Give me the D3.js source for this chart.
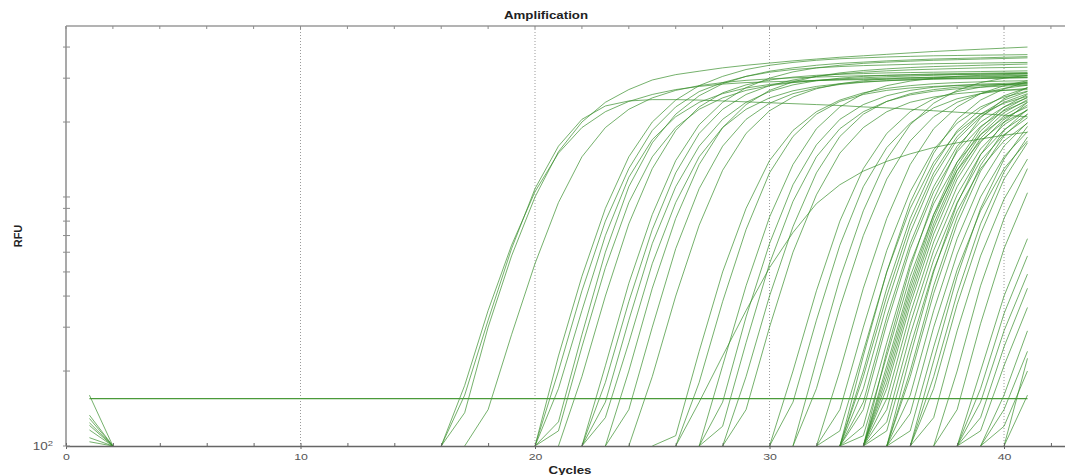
<!DOCTYPE html>
<html>
<head>
<meta charset="utf-8">
<script src="https://cdn.jsdelivr.net/npm/d3@7"></script>
<style>
body { margin: 0; background: #fff; }
text { font-family: Arial, "Liberation Sans", sans-serif; }
</style>
</head>
<body>
<div id="chart"></div>
<script>
// tick values and labels
var xTicks = [0, 2, 4, 6, 8, 10, 12, 14, 16, 18, 20, 22, 24, 26, 28, 30, 32, 34, 36, 38, 40, 42];
var xLabels = [0, 10, 20, 30, 40];
var yTicks = [100, 200, 300, 400, 500, 600, 700, 800, 900, 1000, 2000, 3000, 4000];

// threshold line
var thresholdRfu = 155;
var thresholdCycles = [1, 41];

// wells that start above baseline at cycle 1 and drop to it at cycle 2
var cycleOneRfu = [160, 133, 129, 124, 121, 116, 108, 104];

// early wells: first cycle off the baseline, then rfu per cycle up to 41
var earlyStarts = [16, 16, 16, 17, 20, 20, 20, 20, 20, 21, 22, 22, 22, 22, 23, 23, 24, 25];
var earlyRfu = [
    [100, 136, 300, 580, 1000, 1520, 2000, 2400, 2700, 2950, 3100, 3200, 3300, 3380, 3450, 3520, 3580, 3640, 3690, 3740, 3790, 3840, 3880, 3920, 3960, 4000],
    [100, 175, 350, 640, 1050, 1500, 1900, 2200, 2420, 2580, 2700, 2780, 2840, 2880, 2900, 2920, 2940, 2950, 2960, 2970, 2980, 2990, 3000, 3000, 3010, 3020],
    [100, 160, 320, 620, 1080, 1600, 2050, 2320, 2430, 2460, 2460, 2450, 2430, 2410, 2390, 2370, 2350, 2330, 2300, 2280, 2250, 2220, 2190, 2160, 2130, 2100],
    [100, 140, 280, 540, 950, 1450, 1900, 2250, 2500, 2680, 2800, 2880, 2940, 2980, 3010, 3030, 3050, 3070, 3080, 3090, 3100, 3110, 3120, 3130, 3140],
    [100, 230, 480, 900, 1450, 2000, 2450, 2800, 3050, 3250, 3380, 3470, 3540, 3590, 3620, 3650, 3670, 3690, 3700, 3710, 3720, 3730],
    [100, 200, 420, 800, 1300, 1850, 2300, 2650, 2880, 3050, 3170, 3250, 3300, 3340, 3370, 3390, 3410, 3430, 3440, 3450, 3460, 3470],
    [100, 170, 350, 700, 1200, 1700, 2100, 2400, 2600, 2740, 2830, 2890, 2930, 2960, 2980, 3000, 3010, 3020, 3030, 3040, 3050, 3060],
    [100, 115, 250, 520, 950, 1450, 1900, 2250, 2500, 2680, 2800, 2880, 2940, 2980, 3010, 3040, 3060, 3080, 3100, 3110, 3120, 3130],
    [100, 125, 280, 600, 1100, 1650, 2150, 2550, 2850, 3050, 3200, 3300, 3380, 3440, 3480, 3520, 3550, 3580, 3600, 3620, 3640, 3660],
    [100, 190, 400, 780, 1300, 1850, 2300, 2620, 2820, 2950, 3030, 3080, 3110, 3130, 3150, 3160, 3170, 3180, 3190, 3200, 3210],
    [100, 210, 450, 850, 1400, 1950, 2400, 2750, 3000, 3180, 3300, 3380, 3440, 3480, 3510, 3540, 3560, 3580, 3600, 3620],
    [100, 180, 380, 740, 1250, 1800, 2250, 2580, 2800, 2950, 3050, 3120, 3170, 3210, 3240, 3260, 3280, 3300, 3310, 3320],
    [100, 150, 320, 650, 1100, 1600, 2050, 2400, 2650, 2820, 2930, 3000, 3050, 3080, 3100, 3120, 3130, 3140, 3150, 3160],
    [100, 130, 260, 540, 950, 1450, 1900, 2250, 2500, 2670, 2780, 2850, 2900, 2930, 2950, 2970, 2980, 2990, 3000, 3010],
    [100, 200, 430, 820, 1350, 1900, 2350, 2680, 2900, 3050, 3150, 3220, 3270, 3310, 3340, 3360, 3380, 3400, 3420],
    [100, 140, 300, 620, 1080, 1600, 2050, 2380, 2600, 2740, 2830, 2890, 2930, 2960, 2980, 3000, 3010, 3020, 3030],
    [100, 190, 400, 770, 1280, 1800, 2220, 2520, 2720, 2850, 2930, 2980, 3010, 3030, 3050, 3060, 3070, 3080],
    [100, 110, 240, 500, 900, 1400, 1850, 2200, 2450, 2620, 2730, 2800, 2850, 2880, 2900, 2920, 2930]
];

// middle wells
var midStarts = [26, 26, 27, 27, 27, 28, 28, 30, 30, 31, 31, 32, 32, 32];
var midRfu = [
    [100, 150, 230, 350, 520, 720, 940, 1120, 1270, 1390, 1490, 1580, 1650, 1710, 1770, 1820],
    [100, 180, 380, 740, 1250, 1750, 2150, 2420, 2580, 2680, 2740, 2780, 2800, 2820, 2830, 2840],
    [100, 210, 440, 830, 1350, 1880, 2300, 2600, 2800, 2920, 3000, 3050, 3080, 3100, 3120],
    [100, 150, 330, 650, 1120, 1620, 2050, 2350, 2550, 2680, 2760, 2810, 2840, 2860, 2880],
    [100, 120, 260, 540, 960, 1450, 1880, 2200, 2420, 2570, 2660, 2720, 2760, 2790, 2810],
    [100, 190, 400, 760, 1250, 1750, 2150, 2420, 2600, 2700, 2760, 2800, 2830, 2850],
    [100, 140, 300, 600, 1020, 1500, 1900, 2200, 2400, 2520, 2600, 2650, 2680, 2700],
    [100, 200, 420, 800, 1300, 1800, 2200, 2480, 2650, 2760, 2830, 2870],
    [100, 150, 320, 640, 1100, 1580, 1980, 2280, 2480, 2600, 2680, 2730],
    [100, 220, 470, 880, 1420, 1950, 2380, 2680, 2880, 3000, 3080],
    [100, 170, 360, 700, 1180, 1680, 2100, 2400, 2600, 2730, 2810],
    [100, 200, 430, 820, 1350, 1880, 2300, 2600, 2800, 2930],
    [100, 140, 300, 610, 1050, 1550, 1980, 2300, 2520, 2660],
    [100, 115, 240, 500, 900, 1380, 1820, 2150, 2380, 2540]
];

// late wells
var lateStarts = [33, 33, 33, 33, 33, 33, 33, 33,
    34, 34, 34, 34, 34, 34, 34, 34, 34, 34,
    35, 35, 35, 35, 35, 35, 36, 36, 36, 36, 37, 37,
    38, 38, 38, 38, 38, 39, 39, 39, 40, 40];
var lateRfu = [
    [100, 230, 500, 950, 1500, 2050, 2450, 2720, 2900],
    [100, 200, 430, 820, 1330, 1850, 2250, 2550, 2750],
    [100, 170, 370, 720, 1200, 1700, 2100, 2400, 2600],
    [100, 140, 310, 620, 1050, 1520, 1920, 2220, 2430],
    [100, 120, 260, 540, 940, 1380, 1780, 2080, 2300],
    [100, 110, 230, 480, 850, 1280, 1680, 2000, 2230],
    [100, 190, 400, 770, 1250, 1750, 2150, 2450, 2650],
    [100, 150, 330, 650, 1100, 1600, 2000, 2300, 2500],
    [100, 240, 520, 980, 1550, 2080, 2480, 2750],
    [100, 210, 450, 850, 1380, 1900, 2300, 2580],
    [100, 190, 410, 780, 1280, 1780, 2180, 2460],
    [100, 170, 370, 710, 1180, 1660, 2050, 2340],
    [100, 155, 340, 660, 1100, 1560, 1950, 2240],
    [100, 140, 310, 610, 1020, 1480, 1860, 2150],
    [100, 125, 280, 560, 950, 1400, 1780, 2080],
    [100, 115, 250, 510, 880, 1300, 1680, 1980],
    [100, 180, 390, 750, 1230, 1720, 2120, 2400],
    [100, 200, 430, 820, 1330, 1840, 2240, 2520],
    [100, 230, 500, 940, 1480, 2000, 2400],
    [100, 190, 410, 780, 1270, 1760, 2150],
    [100, 160, 350, 680, 1130, 1600, 1990],
    [100, 135, 300, 590, 1000, 1450, 1830],
    [100, 115, 250, 510, 880, 1300, 1680],
    [100, 200, 440, 830, 1340, 1850, 2250],
    [100, 220, 480, 900, 1420, 1920],
    [100, 170, 370, 710, 1180, 1650],
    [100, 130, 290, 580, 980, 1420],
    [100, 190, 410, 780, 1260, 1740],
    [100, 200, 440, 820, 1300],
    [100, 140, 310, 620, 1040],
    [100, 200, 400, 680],
    [100, 170, 340, 580],
    [100, 150, 290, 490],
    [100, 130, 250, 430],
    [100, 115, 210, 360],
    [100, 160, 290],
    [100, 140, 240],
    [100, 120, 200],
    [100, 225],
    [100, 160]
];

// chart size
var width = 1065;
var height = 475;
var plot = { left: 66, right: 1065, top: 26, bottom: 446 };

var x = d3.scaleLinear()
    .domain([0, 42.6])
    .range([plot.left, plot.right]);
var y = d3.scaleLog()
    .domain([100, 4860])
    .range([plot.bottom, plot.top]);

var svg = d3.select("#chart").append("svg")
    .attr("width", width)
    .attr("height", height);

// dotted grid lines every 10 cycles
svg.selectAll(".grid")
    .data(xLabels.filter(function (d) { return d > 0; }))
    .enter().append("line")
    .attr("class", "grid")
    .attr("x1", function (d) { return x(d); })
    .attr("x2", function (d) { return x(d); })
    .attr("y1", plot.top)
    .attr("y2", plot.bottom)
    .attr("stroke", "#9a9a9a")
    .attr("stroke-width", 1)
    .attr("stroke-dasharray", "1,2");

// turn starts + values into point lists
function toSeries(starts, values) {
    return values.map(function (vals, i) {
        return vals.map(function (v, j) {
            return { c: starts[i] + j, v: v };
        });
    });
}
var series = toSeries(earlyStarts, earlyRfu)
    .concat(toSeries(midStarts, midRfu))
    .concat(toSeries(lateStarts, lateRfu));
cycleOneRfu.forEach(function (v) {
    series.push([{ c: 1, v: v }, { c: 2, v: 100 }]);
});

var line = d3.line()
    .x(function (d) { return x(d.c); })
    .y(function (d) { return y(d.v); });

// amplification curves
svg.append("g")
    .selectAll("path")
    .data(series)
    .enter().append("path")
    .attr("d", line)
    .attr("fill", "none")
    .attr("stroke", "#338c26")
    .attr("stroke-opacity", 0.68)
    .attr("stroke-width", 1);

// threshold
svg.append("line")
    .attr("x1", x(thresholdCycles[0]))
    .attr("x2", x(thresholdCycles[1]))
    .attr("y1", y(thresholdRfu))
    .attr("y2", y(thresholdRfu))
    .attr("stroke", "#4a9a3a")
    .attr("stroke-width", 1.4);

// frame: left and top lines
svg.append("line")
    .attr("x1", plot.left).attr("x2", plot.left)
    .attr("y1", plot.top).attr("y2", plot.bottom)
    .attr("stroke", "#8c8c8c").attr("stroke-width", 1.5);
svg.append("line")
    .attr("x1", plot.left).attr("x2", plot.right)
    .attr("y1", plot.top).attr("y2", plot.top)
    .attr("stroke", "#9a9a9a").attr("stroke-width", 1.5);

// top small ticks
svg.selectAll(".ttick")
    .data(xTicks)
    .enter().append("line")
    .attr("x1", function (d) { return x(d); })
    .attr("x2", function (d) { return x(d); })
    .attr("y1", plot.top)
    .attr("y2", plot.top + 3)
    .attr("stroke", "#8c8c8c");

// bottom axis
var xAxis = svg.append("g")
    .attr("transform", "translate(0," + plot.bottom + ")")
    .call(d3.axisBottom(x)
        .tickValues(xTicks)
        .tickSize(-3)
        .tickSizeOuter(0)
        .tickFormat(function (d) { return xLabels.indexOf(d) >= 0 ? d : ""; }));
xAxis.select(".domain").attr("stroke", "#666").attr("stroke-width", 1.3);
xAxis.selectAll(".tick line").attr("stroke", "#666").attr("y2", -3);
xAxis.selectAll(".tick")
    .filter(function (d) { return xLabels.indexOf(d) >= 0; })
    .append("line")
    .attr("y1", 0).attr("y2", 3)
    .attr("stroke", "#666");
xAxis.selectAll(".tick text")
    .attr("y", 0)
    .attr("dy", 0)
    .attr("fill", "#555")
    .attr("font-size", 9.5)
    .attr("transform", "translate(0,14) scale(1.3,1)");

// left ticks (log)
svg.selectAll(".ytick")
    .data(yTicks)
    .enter().append("line")
    .attr("x1", plot.left - 3)
    .attr("x2", plot.left + 4)
    .attr("y1", function (d) { return y(d); })
    .attr("y2", function (d) { return y(d); })
    .attr("stroke", "#8c8c8c");

// 10^2 label
var yLab = svg.append("text")
    .attr("text-anchor", "end")
    .attr("font-size", 10)
    .attr("fill", "#555")
    .attr("transform", "translate(53," + (y(100) + 4) + ") scale(1.35,1)");
yLab.append("tspan").text("10");
yLab.append("tspan").attr("dy", -4).attr("font-size", 7).text("2");

// title and axis names
svg.append("text")
    .attr("text-anchor", "middle")
    .attr("font-size", 10)
    .attr("font-weight", "bold")
    .attr("fill", "#222")
    .attr("transform", "translate(546,19) scale(1.33,1)")
    .text("Amplification");

svg.append("text")
    .attr("text-anchor", "middle")
    .attr("font-size", 10)
    .attr("font-weight", "bold")
    .attr("fill", "#222")
    .attr("transform", "translate(570,474) scale(1.33,1)")
    .text("Cycles");

svg.append("text")
    .attr("text-anchor", "middle")
    .attr("font-size", 10)
    .attr("font-weight", "bold")
    .attr("fill", "#222")
    .attr("transform", "translate(22,236) scale(1,1.1) rotate(-90)")
    .text("RFU");
</script>
</body>
</html>
